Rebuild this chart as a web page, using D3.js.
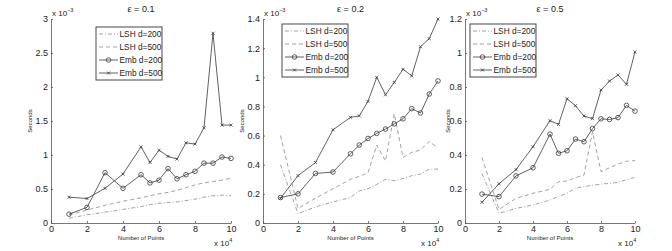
<!DOCTYPE html>
<html>
<head>
<meta charset="UTF-8">
<title>LSH vs Emb</title>
<script src="https://d3js.org/d3.v7.min.js"></script>
<style>
  body { margin: 0; background: #fff; }
  svg { font-family: "Liberation Sans", Arial, sans-serif; }
  .tick text { fill: #222; font-size: 9px; }
  .small { font-size: 6px; fill: #222; }
</style>
</head>
<body>
<svg width="672" height="251"></svg>
<script>
// x values (x 10^4 points), y values in units of 10^-3 seconds
const xPoints = [1, 2, 3, 4, 5, 5.5, 6, 6.5, 7, 7.5, 8, 8.5, 9, 9.5, 10];
const xTicks = [0, 2, 4, 6, 8, 10];
const seriesNames = ['LSH d=200', 'LSH d=500', 'Emb d=200', 'Emb d=500'];

// eps = 0.1
const lsh200_e01 = [0.07, 0.12, 0.16, 0.20, 0.24, 0.27, 0.29, 0.30, 0.31, 0.33, 0.35, 0.38, 0.40, 0.41, 0.40];
const lsh500_e01 = [0.12, 0.19, 0.26, 0.32, 0.37, 0.40, 0.43, 0.45, 0.48, 0.52, 0.56, 0.59, 0.61, 0.63, 0.66];
const emb200_e01 = [0.13, 0.23, 0.74, 0.51, 0.71, 0.59, 0.63, 0.80, 0.65, 0.71, 0.76, 0.88, 0.88, 0.97, 0.95];
const emb500_e01 = [0.38, 0.36, 0.51, 0.72, 1.12, 0.89, 1.07, 0.98, 0.94, 1.18, 1.16, 1.40, 2.79, 1.44, 1.44];
const yTicks_e01 = [0, 0.5, 1, 1.5, 2, 2.5, 3];

// eps = 0.2
const lsh200_e02 = [0.40, 0.064, 0.11, 0.145, 0.175, 0.22, 0.235, 0.265, 0.30, 0.29, 0.305, 0.325, 0.335, 0.37, 0.37];
const lsh500_e02 = [0.60, 0.10, 0.17, 0.235, 0.30, 0.32, 0.345, 0.535, 0.425, 0.75, 0.45, 0.485, 0.50, 0.56, 0.515];
const emb200_e02 = [0.175, 0.20, 0.34, 0.35, 0.475, 0.535, 0.58, 0.615, 0.645, 0.68, 0.715, 0.785, 0.755, 0.885, 0.975];
const emb500_e02 = [0.17, 0.325, 0.415, 0.64, 0.725, 0.735, 0.835, 1.00, 0.88, 0.965, 1.055, 1.01, 1.21, 1.265, 1.40];
const yTicks_e02 = [0, 0.2, 0.4, 0.6, 0.8, 1, 1.2, 1.4];

// eps = 0.5
const lsh200_e05 = [0.29, 0.057, 0.086, 0.106, 0.135, 0.155, 0.175, 0.205, 0.214, 0.222, 0.229, 0.233, 0.239, 0.255, 0.269];
const lsh500_e05 = [0.385, 0.08, 0.145, 0.175, 0.198, 0.243, 0.247, 0.267, 0.282, 0.537, 0.302, 0.325, 0.347, 0.363, 0.367];
const emb200_e05 = [0.17, 0.155, 0.277, 0.325, 0.523, 0.41, 0.425, 0.494, 0.478, 0.555, 0.613, 0.609, 0.62, 0.692, 0.658];
const emb500_e05 = [0.122, 0.231, 0.314, 0.449, 0.602, 0.58, 0.731, 0.69, 0.629, 0.614, 0.782, 0.835, 0.871, 0.816, 1.006];
const yTicks_e05 = [0, 0.2, 0.4, 0.6, 0.8, 1, 1.2];

const panels = [
  { title: 'ε = 0.1', yMax: 3, yTicks: yTicks_e01, series: [lsh200_e01, lsh500_e01, emb200_e01, emb500_e01],
    left: 51, right: 231, ylab: 32, legendDx: 45, legendY: 27 },
  { title: 'ε = 0.2', yMax: 1.4, yTicks: yTicks_e02, series: [lsh200_e02, lsh500_e02, emb200_e02, emb500_e02],
    left: 263, right: 438, ylab: 244, legendDx: 19, legendY: 24 },
  { title: 'ε = 0.5', yMax: 1.2, yTicks: yTicks_e05, series: [lsh200_e05, lsh500_e05, emb200_e05, emb500_e05],
    left: 465, right: 635, ylab: 450, legendDx: 5, legendY: 24 }
];

const plotTop = 19, plotBottom = 223;
const styles = [
  { stroke: '#8a8a8a', dash: '4,2,1,2', marker: null },
  { stroke: '#8a8a8a', dash: '4,3', marker: null },
  { stroke: '#3a3a3a', dash: null, marker: 'o' },
  { stroke: '#3a3a3a', dash: null, marker: 'x' }
];

const svg = d3.select('svg');

function drawMarker(g, type, cx, cy, color) {
  if (type === 'o') {
    g.append('circle').attr('cx', cx).attr('cy', cy).attr('r', 2.3)
      .attr('fill', 'none').attr('stroke', color).attr('stroke-width', 0.8);
  } else if (type === 'x') {
    const s = 1.5;
    g.append('path')
      .attr('d', `M${cx - s},${cy - s}L${cx + s},${cy + s}M${cx - s},${cy + s}L${cx + s},${cy - s}`)
      .attr('stroke', color).attr('stroke-width', 0.8);
  }
}

panels.forEach(p => {
  const x = d3.scaleLinear().domain([0, 10]).range([p.left, p.right]);
  const y = d3.scaleLinear().domain([0, p.yMax]).range([plotBottom, plotTop]);
  const g = svg.append('g');

  // axes
  const xAxis = g.append('g').attr('transform', `translate(0,${plotBottom})`)
    .call(d3.axisBottom(x).tickValues(xTicks).tickSizeInner(-2).tickSizeOuter(0).tickPadding(3));
  const yAxis = g.append('g').attr('transform', `translate(${p.left},0)`)
    .call(d3.axisLeft(y).tickValues(p.yTicks).tickSizeInner(-2).tickSizeOuter(0).tickPadding(3)
      .tickFormat(d3.format('~g')));
  [xAxis, yAxis].forEach(a => {
    a.select('.domain').attr('stroke', '#555').attr('stroke-width', 0.8);
    a.selectAll('.tick line').attr('stroke', '#555').attr('stroke-width', 0.8);
  });

  // series lines
  p.series.forEach((vals, i) => {
    const st = styles[i];
    const pts = xPoints.map((xv, k) => [x(xv), y(vals[k])]);
    g.append('path')
      .attr('d', d3.line()(pts))
      .attr('fill', 'none')
      .attr('stroke', st.stroke)
      .attr('stroke-width', 0.8)
      .attr('stroke-dasharray', st.dash);
    if (st.marker) pts.forEach(([cx, cy]) => drawMarker(g, st.marker, cx, cy, st.stroke));
  });

  // texts
  g.append('text').attr('x', (p.left + p.right) / 2).attr('y', 12)
    .attr('text-anchor', 'middle').attr('font-size', 9).attr('fill', '#222').text(p.title);
  const e3 = g.append('text').attr('x', p.left + 1).attr('y', 16).attr('font-size', 8).attr('fill', '#222');
  e3.append('tspan').text('x 10');
  e3.append('tspan').attr('font-size', 5.5).attr('dy', -4).text('−3');
  const e4 = g.append('text').attr('x', p.right - 17).attr('y', 246).attr('font-size', 8).attr('fill', '#222');
  e4.append('tspan').text('x 10');
  e4.append('tspan').attr('font-size', 5.5).attr('dy', -4).text('4');
  g.append('text').attr('class', 'small')
    .attr('x', (p.left + p.right) / 2).attr('y', 240).attr('text-anchor', 'middle')
    .text('Number of Points');
  g.append('text').attr('class', 'small')
    .attr('transform', `translate(${p.ylab},${(plotTop + plotBottom) / 2}) rotate(-90)`)
    .attr('text-anchor', 'middle').text('Seconds');

  // legend
  const lx = p.left + p.legendDx, ly = p.legendY;
  const lg = g.append('g').attr('transform', `translate(${lx},${ly})`);
  lg.append('rect').attr('width', 66).attr('height', 53)
    .attr('fill', '#fff').attr('stroke', '#333').attr('stroke-width', 0.9);
  seriesNames.forEach((name, i) => {
    const st = styles[i];
    const yy = 7 + i * 13;
    lg.append('line').attr('x1', 3).attr('x2', 22).attr('y1', yy).attr('y2', yy)
      .attr('stroke', st.stroke).attr('stroke-width', 0.8).attr('stroke-dasharray', st.dash);
    if (st.marker) drawMarker(lg, st.marker, 12.5, yy, st.stroke);
    lg.append('text').attr('x', 23.5).attr('y', yy).attr('dy', '0.35em')
      .attr('font-size', 8.3).attr('fill', '#222').text(name);
  });
});
</script>
</body>
</html>
